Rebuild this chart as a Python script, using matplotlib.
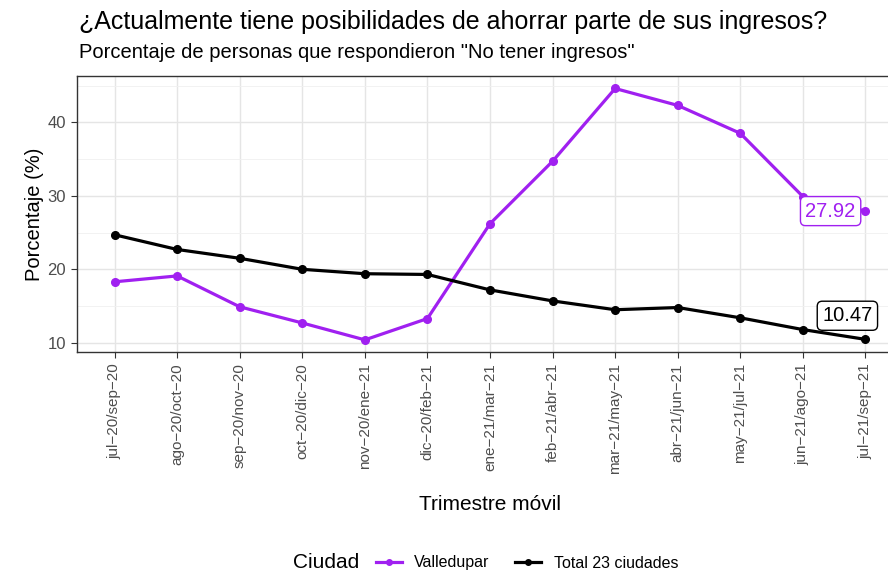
import matplotlib.pyplot as plt
from matplotlib.ticker import MultipleLocator
from matplotlib.lines import Line2D

plt.rcParams['font.family'] = ['Liberation Sans', 'DejaVu Sans']

# Data
trimestres = ["jul-20/sep-20", "ago-20/oct-20", "sep-20/nov-20", "oct-20/dic-20",
              "nov-20/ene-21", "dic-20/feb-21", "ene-21/mar-21", "feb-21/abr-21",
              "mar-21/may-21", "abr-21/jun-21", "may-21/jul-21", "jun-21/ago-21",
              "jul-21/sep-21"]
valledupar = [18.3, 19.1, 14.9, 12.7, 10.4, 13.3, 26.2, 34.7, 44.6, 42.3, 38.5, 29.9, 27.92]
total = [24.7, 22.7, 21.5, 20.0, 19.4, 19.3, 17.2, 15.7, 14.5, 14.8, 13.4, 11.8, 10.47]

purple = "#A020F0"
x = list(range(len(trimestres)))

fig = plt.figure(figsize=(8.88, 5.73), dpi=100)
# panel runs past the right edge of the image, like the cropped original
ax = fig.add_axes([77 / 888, 1 - 352 / 573, (903 - 77) / 888, (352 - 76) / 573])

ax.plot(x, valledupar, color=purple, lw=2.3, marker="o", ms=5.5, label="Valledupar")
ax.plot(x, total, color="black", lw=2.3, marker="o", ms=5.5, label="Total 23 ciudades")

# end labels
ax.annotate(f"{valledupar[-1]:.2f}", (x[-1], valledupar[-1]), xytext=(-7, 0),
            textcoords="offset points", ha="right", va="center", fontsize=14.5, color=purple,
            bbox=dict(boxstyle="round,pad=0.25", fc="white", ec=purple, lw=1))
ax.annotate(f"{total[-1]:.2f}", (x[-1], total[-1]), xytext=(-13, 17),
            textcoords="offset points", ha="center", va="center", fontsize=14.5, color="black",
            bbox=dict(boxstyle="round,pad=0.25", fc="white", ec="black", lw=1))

ax.set_xlim(-0.6, 12.6)
ax.set_ylim(8.75, 46.3)
ax.set_xticks(x)
ax.set_xticklabels([t.replace("-", "\u2212") for t in trimestres], rotation=90,
                   fontsize=11, color="#4d4d4d")
ax.yaxis.set_major_locator(MultipleLocator(10))
ax.yaxis.set_minor_locator(MultipleLocator(5))
ax.tick_params(axis="y", labelsize=12, labelcolor="#4d4d4d")
ax.tick_params(axis="y", which="minor", length=0)
ax.tick_params(axis="both", color="#333333", length=4.5)
ax.grid(True, which="major", color="#e5e5e5", lw=1)
ax.grid(True, which="minor", axis="y", color="#f0f0f0", lw=0.6)
ax.set_axisbelow(True)
for s in ax.spines.values():
    s.set_color("#333333")
    s.set_linewidth(1)

ax.set_xlabel("Trimestre móvil", fontsize=15, labelpad=15)
ax.set_ylabel("Porcentaje (%)", fontsize=14.5, labelpad=2)

fig.text(79 / 888, 1 - 22 / 573, "¿Actualmente tiene posibilidades de ahorrar parte de sus ingresos?",
         fontsize=18, va="center", ha="left")
fig.text(79 / 888, 1 - 53 / 573, 'Porcentaje de personas que respondieron "No tener ingresos"',
         fontsize=14.5, va="center", ha="left")

# legend at the bottom, title on the left
fig.text(293 / 888, 1 - 563 / 573, "Ciudad", fontsize=15, va="center", ha="left")
handles = [Line2D([], [], color=purple, lw=2.3, marker="o", ms=4),
           Line2D([], [], color="black", lw=2.3, marker="o", ms=4)]
fig.legend(handles, ["Valledupar", "Total 23 ciudades"], loc="center left",
           bbox_to_anchor=(376 / 888, 1 - 563 / 573), ncol=2, frameon=False,
           fontsize=11.5, handlelength=1.6, columnspacing=1.6, handletextpad=0.8,
           borderaxespad=0, borderpad=0)

fig.savefig("out.png", dpi=100)
